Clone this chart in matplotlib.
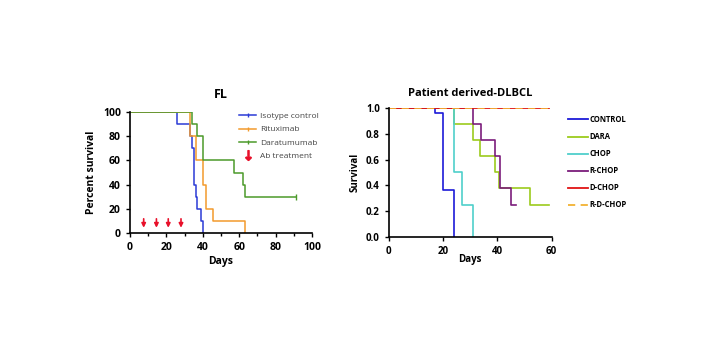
import matplotlib.pyplot as plt
from matplotlib.lines import Line2D

# FL panel (percent survival)
iso_days = [0, 26, 33, 34, 35, 36, 37, 39, 40]
iso_surv = [100, 90, 80, 70, 40, 30, 20, 10, 0]
rit_days = [0, 33, 36.5, 40, 41.5, 45.5, 63]
rit_surv = [100, 80, 60, 40, 20, 10, 0]
dara_days = [0, 34, 37, 40, 57, 62, 63, 91]
dara_surv = [100, 90, 80, 60, 50, 40, 30, 30]
ab_days = [7.5, 14.5, 21, 28]

# DLBCL panel (fraction survival)
ctrl_days = [0, 17, 20, 24]
ctrl_surv = [1.0, 0.96, 0.36, 0.0]
dara2_days = [0, 24, 31, 33.5, 39, 40.5, 52, 59]
dara2_surv = [1.0, 0.875, 0.75, 0.625, 0.5, 0.375, 0.25, 0.25]
chop_days = [0, 24, 27, 31]
chop_surv = [1.0, 0.5, 0.25, 0.0]
rchop_days = [0, 31, 34, 39, 41, 45, 47]
rchop_surv = [1.0, 0.875, 0.75, 0.625, 0.375, 0.25, 0.25]
dchop_days = [0, 59]
dchop_surv = [1.0, 1.0]
rdchop_days = [0, 59]
rdchop_surv = [1.0, 1.0]

plt.rcParams['font.family'] = ['Open Sans', 'DejaVu Sans']

fig = plt.figure(figsize=(7.24, 3.64), dpi=100)

# ---- left panel ----
ax1 = fig.add_axes([0.1796, 0.360, 0.2514, 0.332])
ax1.step(iso_days, iso_surv, where='post', color='#2b3bd6', lw=1.1)
ax1.step(rit_days, rit_surv, where='post', color='#f39a2c', lw=1.1)
ax1.step(dara_days, dara_surv, where='post', color='#4c9a2a', lw=1.1)
ax1.plot([dara_days[-1]], [dara_surv[-1]], marker='|', color='#4c9a2a', ms=4)
for d in ab_days:
    ax1.annotate('', xy=(d, 2), xytext=(d, 14),
                 arrowprops=dict(arrowstyle='-|>', color='#e8102a', lw=1.2,
                                 mutation_scale=6))
ax1.set_xlim(0, 100)
ax1.set_ylim(0, 100)
ax1.set_xticks(range(0, 101, 20))
ax1.set_xticks(range(0, 101, 10), minor=True)
ax1.set_yticks(range(0, 101, 20))
ax1.tick_params(direction='out', length=3, width=1, labelsize=7.5)
ax1.tick_params(which='minor', length=2, width=1)
for lab in ax1.get_xticklabels() + ax1.get_yticklabels():
    lab.set_fontweight('bold')
for s in ['top', 'right']:
    ax1.spines[s].set_visible(False)
ax1.spines['left'].set_linewidth(1.2)
ax1.spines['bottom'].set_linewidth(1.2)
ax1.set_title('FL', fontsize=9, fontweight='bold', pad=10)
ax1.set_ylabel('Percent survival', fontsize=7.5, fontweight='bold')
ax1.set_xlabel('Days', fontsize=7.5, fontweight='bold', labelpad=2)

handles1 = [
    Line2D([], [], color='#2b3bd6', lw=1.1, marker='|', ms=3),
    Line2D([], [], color='#f39a2c', lw=1.1, marker='|', ms=3),
    Line2D([], [], color='#4c9a2a', lw=1.1, marker='|', ms=3),
    Line2D([], [], color='#e8102a', lw=0, marker='$\\downarrow$', ms=7),
]
ax1.legend(handles1, ['Isotype control', 'Rituximab', 'Daratumumab', 'Ab treatment'],
           loc='upper left', bbox_to_anchor=(0.56, 1.06), frameon=False,
           fontsize=6, handlelength=2.0, labelspacing=0.65, handletextpad=0.5,
           labelcolor='#444444')

# ---- right panel ----
ax2 = fig.add_axes([0.537, 0.350, 0.225, 0.3525])
ax2.step(ctrl_days, ctrl_surv, where='post', color='#1c1ad8', lw=1.2)
ax2.step(dara2_days, dara2_surv, where='post', color='#9ccb1c', lw=1.2)
ax2.step(chop_days, chop_surv, where='post', color='#4fcfcb', lw=1.2)
ax2.step(rchop_days, rchop_surv, where='post', color='#7b1c7b', lw=1.2)
ax2.step(dchop_days, dchop_surv, where='post', color='#e01414', lw=1.3)
ax2.step(rdchop_days, rdchop_surv, where='post', color='#f2b233', lw=1.3,
         ls=(0, (4, 3)))
ax2.set_xlim(0, 60)
ax2.set_ylim(0, 1.0)
ax2.set_xticks([0, 20, 40, 60])
ax2.set_yticks([0.0, 0.2, 0.4, 0.6, 0.8, 1.0])
ax2.set_yticklabels(['0.0', '0.2', '0.4', '0.6', '0.8', '1.0'])
ax2.tick_params(direction='out', length=3, width=1, labelsize=7)
for lab in ax2.get_xticklabels() + ax2.get_yticklabels():
    lab.set_fontweight('bold')
for s in ['top', 'right']:
    ax2.spines[s].set_visible(False)
ax2.spines['left'].set_linewidth(1.2)
ax2.spines['bottom'].set_linewidth(1.2)
ax2.set_title('Patient derived-DLBCL', fontsize=8, fontweight='bold', pad=9)
ax2.set_ylabel('Survival', fontsize=7, fontweight='bold')
ax2.set_xlabel('Days', fontsize=7, fontweight='bold', labelpad=-2)

handles2 = [
    Line2D([], [], color='#1c1ad8', lw=1.3),
    Line2D([], [], color='#9ccb1c', lw=1.3),
    Line2D([], [], color='#4fcfcb', lw=1.3),
    Line2D([], [], color='#7b1c7b', lw=1.3),
    Line2D([], [], color='#e01414', lw=1.3),
    Line2D([], [], color='#f2b233', lw=1.3, ls=(0, (4, 3))),
]
ax2.legend(handles2, ['CONTROL', 'DARA', 'CHOP', 'R-CHOP', 'D-CHOP', 'R-D-CHOP'],
           loc='upper left', bbox_to_anchor=(1.06, 1.0), frameon=False,
           prop={'size': 5.5, 'weight': 'bold'}, handlelength=2.6,
           labelspacing=1.05, handletextpad=0.2)

fig.savefig('out.png', dpi=100)
